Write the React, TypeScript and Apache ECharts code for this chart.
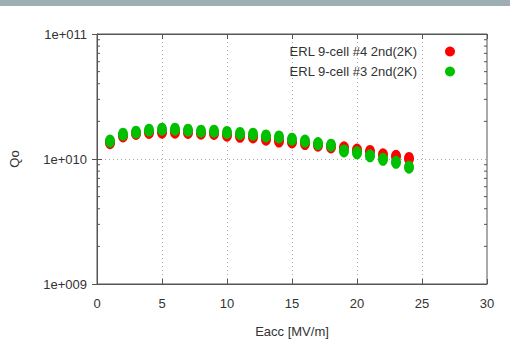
import React, { useEffect, useRef } from "react";
import * as echarts from "echarts";

const eacc = [1, 2, 3, 4, 5, 6, 7, 8, 9, 10, 11, 12, 13, 14, 15, 16, 17, 18, 19, 20, 21, 22, 23, 24];
const q0Cell4 = [1.35e10, 1.53e10, 1.6e10, 1.63e10, 1.64e10, 1.64e10, 1.63e10, 1.61e10, 1.6e10, 1.55e10, 1.52e10, 1.5e10, 1.44e10, 1.39e10, 1.37e10, 1.33e10, 1.29e10, 1.25e10, 1.23e10, 1.18e10, 1.15e10, 1.08e10, 1.05e10, 1.01e10];
const q0Cell3 = [1.39e10, 1.58e10, 1.64e10, 1.7e10, 1.73e10, 1.73e10, 1.7e10, 1.67e10, 1.67e10, 1.63e10, 1.6e10, 1.58e10, 1.53e10, 1.5e10, 1.44e10, 1.39e10, 1.33e10, 1.29e10, 1.16e10, 1.12e10, 1.06e10, 0.995e10, 0.94e10, 0.86e10];
const seriesNames = ["ERL 9-cell #4 2nd(2K)", "ERL 9-cell #3 2nd(2K)"];
const minorTickValues = [2e9, 3e9, 4e9, 5e9, 6e9, 7e9, 8e9, 9e9, 2e10, 3e10, 4e10, 5e10, 6e10, 7e10, 8e10, 9e10];

const FONT = "'Liberation Sans', Arial, sans-serif";
const TXT = "#333";
const AXIS = "#555";

export default function App() {
  const ref = useRef<HTMLDivElement>(null);
  useEffect(() => {
    if (!ref.current) return;
    const chart = echarts.init(ref.current, null, { renderer: "svg" });
    const fmt = (v: number) => "1e+" + String(Math.round(Math.log10(v))).padStart(3, "0");
    chart.setOption({
      animation: false,
      backgroundColor: "#fff",
      textStyle: { fontFamily: FONT },
      graphic: [
        { type: "rect", left: 0, top: 0, shape: { width: 510, height: 6 }, style: { fill: "#9DAFB2" } },
      ],
      grid: { left: 93, right: 23, top: 34, bottom: 61, show: true, borderColor: AXIS, borderWidth: 1, backgroundColor: "transparent" },
      legend: {
        orient: "vertical",
        align: "right",
        right: 50,
        top: 40,
        itemWidth: 10,
        itemHeight: 13,
        itemGap: 7,
        icon: "circle",
        textStyle: { fontSize: 13, color: TXT, fontFamily: FONT, padding: [0, 23, 0, 0] },
        data: seriesNames,
      },
      xAxis: [
        {
          type: "value",
          min: 0,
          max: 30,
          interval: 5,
          name: "Eacc [MV/m]",
          nameLocation: "middle",
          nameGap: 41,
          nameTextStyle: { fontSize: 13, color: TXT, fontFamily: FONT },
          axisLine: { show: true, lineStyle: { color: AXIS } },
          axisTick: { show: true, inside: true, length: 5, lineStyle: { color: AXIS } },
          axisLabel: { fontSize: 13, color: TXT, margin: 13, fontFamily: FONT },
          splitLine: { show: true, lineStyle: { color: "#aaa", type: [1, 3] } },
        },
        {
          type: "value",
          position: "top",
          min: 0,
          max: 30,
          interval: 5,
          axisLine: { show: true, lineStyle: { color: AXIS } },
          axisTick: { show: true, inside: true, length: 5, lineStyle: { color: AXIS } },
          axisLabel: { show: false },
          splitLine: { show: false },
        },
      ],
      yAxis: [
        {
          type: "log",
          logBase: 10,
          min: 1e9,
          max: 1e11,
          name: "Qo",
          nameLocation: "middle",
          nameGap: 76,
          nameTextStyle: { fontSize: 13, color: TXT, fontFamily: FONT },
          axisLine: { show: true, lineStyle: { color: AXIS } },
          axisTick: { show: true, inside: true, length: 5, lineStyle: { color: AXIS } },
          axisLabel: { fontSize: 13, color: TXT, margin: 10, formatter: fmt, fontFamily: FONT },
          splitLine: { show: true, lineStyle: { color: "#aaa", type: [1, 3] } },
        },
        {
          type: "log",
          logBase: 10,
          min: 1e9,
          max: 1e11,
          position: "right",
          axisLine: { show: true, lineStyle: { color: AXIS } },
          axisTick: { show: true, inside: true, length: 5, lineStyle: { color: AXIS } },
          axisLabel: { show: false },
          splitLine: { show: false },
        },
      ],
      series: [
        {
          type: "custom",
          silent: true,
          xAxisIndex: 0,
          yAxisIndex: 0,
          data: minorTickValues.map((v) => [0, v]),
          renderItem: (params: any, api: any) => {
            const v = api.value(1);
            const l = api.coord([0, v]);
            const r = api.coord([30, v]);
            const style = { stroke: AXIS, lineWidth: 1 };
            return {
              type: "group",
              children: [
                { type: "line", shape: { x1: l[0], y1: l[1], x2: l[0] + 3, y2: l[1] }, style },
                { type: "line", shape: { x1: r[0], y1: r[1], x2: r[0] - 3, y2: r[1] }, style },
              ],
            };
          },
          z: 1,
        },
        {
          name: seriesNames[0],
          type: "scatter",
          symbol: "circle",
          symbolSize: [10, 13],
          itemStyle: { color: "#FF0000", opacity: 1 },
          emphasis: { disabled: true },
          data: eacc.map((x, i) => [x, q0Cell4[i]]),
          z: 3,
        },
        {
          name: seriesNames[1],
          type: "scatter",
          symbol: "circle",
          symbolSize: [10, 13],
          itemStyle: { color: "#00C000", opacity: 1 },
          emphasis: { disabled: true },
          data: eacc.map((x, i) => [x, q0Cell3[i]]),
          z: 4,
        },
      ],
    });
    return () => chart.dispose();
  }, []);
  return <div ref={ref} style={{ position: "fixed", left: 0, top: 0, width: 510, height: 345 }} />;
}
